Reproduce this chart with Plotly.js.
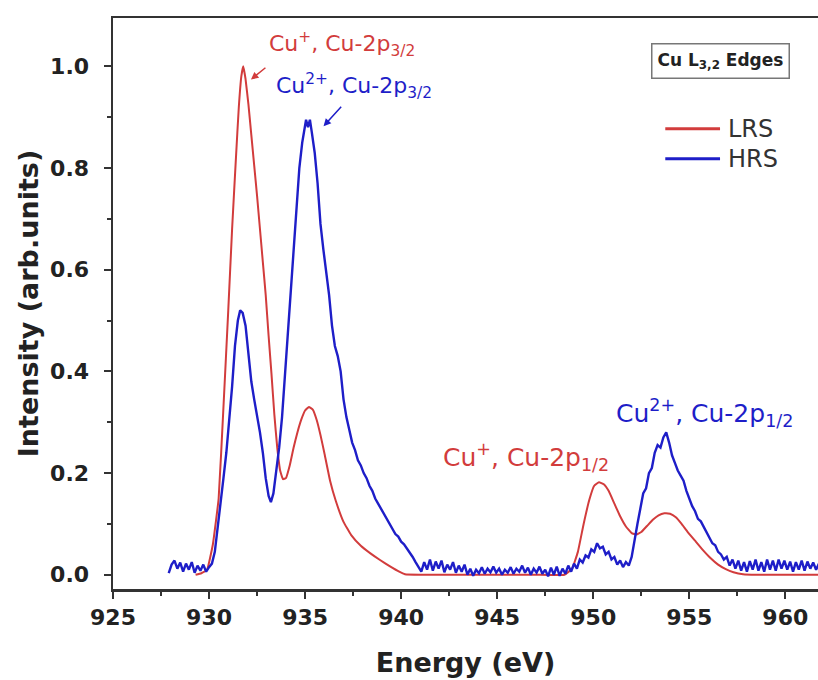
<!DOCTYPE html>
<html>
<head>
<meta charset="utf-8">
<script src="https://cdn.plot.ly/plotly-3.0.1.min.js"></script>
<style>html,body{margin:0;padding:0;background:#fff;}#chart{width:818px;height:680px;}</style>
</head>
<body>
<div id="chart"></div>
<script>
// ---- Data (Energy in eV, normalised intensity) ----
const xTickVals = [925, 930, 935, 940, 945, 950, 955, 960];
const yTickVals = [0.0, 0.2, 0.4, 0.6, 0.8, 1.0];
const seriesNames = ["LRS", "HRS"];

const lrsEnergy = [929.3, 929.6, 929.9, 930.2, 930.5, 930.75, 931.0, 931.2, 931.4, 931.55, 931.68, 931.78, 931.9, 932.05, 932.2, 932.35, 932.5, 932.65, 932.8, 932.95, 933.1, 933.25, 933.4, 933.55, 933.7, 933.85, 934.0, 934.2, 934.4, 934.6, 934.8, 935.0, 935.2, 935.4, 935.6, 935.8, 936.0, 936.3, 936.6, 937.0, 937.4, 937.9, 938.4, 938.9, 939.4, 939.9, 940.2, 941, 943, 945, 947, 948.5, 948.9, 949.2, 949.5, 949.8, 950.05, 950.3, 950.55, 950.8, 951.1, 951.4, 951.7, 952.0, 952.25, 952.5, 952.8, 953.1, 953.4, 953.7, 954.0, 954.3, 954.6, 954.9, 955.3, 955.7, 956.1, 956.5, 956.9, 957.3, 957.8, 958.5, 960, 961.75];
const lrsIntensity = [0.0, 0.003, 0.01, 0.06, 0.15, 0.33, 0.52, 0.68, 0.82, 0.92, 0.98, 1.0, 0.975, 0.925, 0.865, 0.805, 0.745, 0.68, 0.615, 0.55, 0.47, 0.395, 0.315, 0.25, 0.205, 0.188, 0.19, 0.215, 0.25, 0.28, 0.305, 0.323, 0.33, 0.325, 0.305, 0.275, 0.24, 0.185, 0.145, 0.104, 0.078, 0.057, 0.042, 0.029, 0.017, 0.006, 0.001, 0, 0, 0, 0, 0.0, 0.012, 0.045, 0.1, 0.148, 0.175, 0.182, 0.178, 0.165, 0.14, 0.115, 0.095, 0.082, 0.079, 0.084, 0.096, 0.108, 0.117, 0.121, 0.12, 0.113, 0.1, 0.085, 0.067, 0.049, 0.033, 0.02, 0.011, 0.005, 0.001, 0, 0, 0];

const hrsEnergy = [927.9, 928.05, 928.2, 928.35, 928.5, 928.65, 928.8, 928.95, 929.1, 929.25, 929.4, 929.55, 929.7, 929.85, 930.0, 930.15,
  930.3, 930.45, 930.6, 930.75, 930.9, 931.05, 931.2, 931.35, 931.5, 931.62, 931.75, 931.9, 932.05, 932.2, 932.35, 932.5, 932.65, 932.8, 932.95, 933.1, 933.22, 933.35, 933.5, 933.65, 933.8, 933.95,
  934.1, 934.25, 934.4, 934.55, 934.7, 934.85, 934.95, 935.05, 935.15, 935.25, 935.35, 935.5, 935.65, 935.8, 935.95, 936.1, 936.25, 936.4, 936.55, 936.7, 936.85, 937.0, 937.15, 937.3, 937.45, 937.6, 937.75, 937.9,
  938.05, 938.2, 938.35, 938.5, 938.65, 938.8, 938.95, 939.1, 939.25, 939.4, 939.55, 939.7, 939.85, 940.0, 940.15, 940.3, 940.45, 940.6, 940.75, 940.9, 941.05, 941.2, 941.35, 941.5, 941.65, 941.8, 941.95,
  942.1, 942.25, 942.4, 942.55, 942.7, 942.85, 943.0, 943.15, 943.3, 943.45, 943.6, 943.75, 943.9, 944.05, 944.2, 944.35, 944.5, 944.65, 944.8, 944.95, 945.1, 945.25, 945.4, 945.55, 945.7, 945.85,
  946.0, 946.15, 946.3, 946.45, 946.6, 946.75, 946.9, 947.05, 947.2, 947.35, 947.5, 947.65, 947.8, 947.95, 948.1, 948.25, 948.4, 948.55, 948.7, 948.85, 949.0, 949.15, 949.3, 949.45, 949.6, 949.75, 949.9,
  950.05, 950.2, 950.35, 950.5, 950.65, 950.8, 950.95, 951.1, 951.25, 951.4, 951.55, 951.7, 951.85, 952.0, 952.15, 952.3, 952.45, 952.6, 952.75, 952.9, 953.05, 953.2, 953.35, 953.5, 953.65, 953.8, 953.95,
  954.1, 954.25, 954.4, 954.55, 954.7, 954.85, 955.0, 955.15, 955.3, 955.45, 955.6, 955.75, 955.9, 956.05, 956.2, 956.35, 956.5, 956.65, 956.8, 956.95, 957.1, 957.25, 957.4, 957.55, 957.7, 957.85,
  958.0, 958.15, 958.3, 958.45, 958.6, 958.75, 958.9, 959.05, 959.2, 959.35, 959.5, 959.65, 959.8, 959.95, 960.1, 960.25, 960.4, 960.55, 960.7, 960.85, 961.0, 961.15, 961.3, 961.45, 961.6, 961.75];
const hrsIntensity = [0.003, 0.02, 0.028, 0.012, 0.024, 0.006, 0.022, 0.01, 0.025, 0.004, 0.018, 0.008, 0.02, 0.006, 0.015, 0.022,
  0.045, 0.09, 0.14, 0.19, 0.24, 0.3, 0.37, 0.45, 0.5, 0.52, 0.515, 0.49, 0.44, 0.38, 0.345, 0.315, 0.28, 0.24, 0.19, 0.155, 0.143, 0.16, 0.2, 0.25, 0.31, 0.39,
  0.48, 0.56, 0.64, 0.72, 0.8, 0.85, 0.875, 0.895, 0.88, 0.895, 0.87, 0.83, 0.77, 0.69, 0.64, 0.6, 0.55, 0.49, 0.45, 0.43, 0.4, 0.345, 0.31, 0.285, 0.26, 0.245, 0.225, 0.215,
  0.2, 0.19, 0.175, 0.165, 0.15, 0.14, 0.13, 0.12, 0.11, 0.1, 0.092, 0.08, 0.075, 0.065, 0.06, 0.052, 0.045, 0.035, 0.025, 0.015, 0.006, 0.025, 0.01, 0.03, 0.008, 0.026, 0.012,
  0.028, 0.005, 0.02, 0.01, 0.025, 0.004, 0.018, 0.006, 0.02, 0.0, 0.012, -0.002, 0.01, 0.003, 0.015, 0.002, 0.012, 0.005, 0.016, 0.004, 0.012, 0.0, 0.01, 0.004, 0.015, 0.002,
  0.012, 0.006, 0.018, 0.004, 0.014, 0.0, 0.012, 0.004, 0.016, 0.002, 0.01, -0.003, 0.014, 0.0, 0.016, -0.002, 0.012, 0.002, 0.018, 0.006, 0.022, 0.012, 0.03, 0.024, 0.038, 0.034, 0.05,
  0.045, 0.062, 0.052, 0.055, 0.04, 0.045, 0.03, 0.035, 0.02, 0.028, 0.015, 0.025, 0.018, 0.035, 0.07, 0.1, 0.13, 0.16, 0.17, 0.2, 0.21, 0.24, 0.255, 0.25, 0.27, 0.28, 0.26,
  0.235, 0.22, 0.205, 0.195, 0.185, 0.165, 0.15, 0.135, 0.125, 0.11, 0.105, 0.095, 0.085, 0.075, 0.062, 0.058, 0.045, 0.04, 0.03, 0.035, 0.018, 0.03, 0.012, 0.028, 0.008, 0.025,
  0.006, 0.027, 0.01, 0.03, 0.008, 0.025, 0.006, 0.03, 0.01, 0.028, 0.008, 0.03, 0.012, 0.028, 0.01, 0.026, 0.006, 0.025, 0.01, 0.028, 0.008, 0.026, 0.012, 0.024, 0.01, 0.022];

const RED = "#d23c3c";
const BLUE = "#1e1ec8";
const AXC = "#333333";
const FONT = "DejaVu Sans, Arial, sans-serif";

const traces = [
  {x: lrsEnergy, y: lrsIntensity, name: seriesNames[0], type: "scatter", mode: "lines",
   line: {color: RED, width: 2, shape: "spline", smoothing: 0.3}, showlegend: false},
  {x: hrsEnergy, y: hrsIntensity, name: seriesNames[1], type: "scatter", mode: "lines",
   line: {color: BLUE, width: 2.4}, showlegend: false}
];

const layout = {
  width: 818, height: 680,
  margin: {l: 113, r: 0, t: 18, b: 91},
  paper_bgcolor: "#ffffff", plot_bgcolor: "#ffffff",
  font: {family: FONT, color: "#222"},
  xaxis: {
    range: [925, 961.7], tickvals: xTickVals, ticks: "outside", ticklen: 7, tickwidth: 2, tickcolor: AXC,
    showline: true, linecolor: AXC, linewidth: 2.5, mirror: true, showgrid: false, zeroline: false,
    tickfont: {family: FONT, size: 22, color: "#222", weight: "bold"},
    minor: {dtick: 2.5, tick0: 925, ticks: "outside", ticklen: 4, tickwidth: 2, tickcolor: AXC, showgrid: false},
    title: {text: "<b>Energy (eV)</b>", font: {family: FONT, size: 27, color: "#222"}, standoff: 24}
  },
  yaxis: {
    range: [-0.028, 1.095], tickvals: yTickVals, tickformat: ".1f", ticks: "outside", ticklen: 7, tickwidth: 2, tickcolor: AXC,
    showline: true, linecolor: AXC, linewidth: 2.5, mirror: true, showgrid: false, zeroline: false,
    ticklabelstandoff: 10,
    tickfont: {family: FONT, size: 22, color: "#222", weight: "bold"},
    minor: {dtick: 0.1, tick0: 0, ticks: "outside", ticklen: 4, tickwidth: 2, tickcolor: AXC, showgrid: false},
    title: {text: "<b>Intensity (arb.units)</b>", font: {family: FONT, size: 27, color: "#222"}, standoff: 4}
  },
  shapes: [
    {type: "line", xref: "x", yref: "y", x0: 953.75, x1: 956.6, y0: 0.877, y1: 0.877, line: {color: RED, width: 3}},
    {type: "line", xref: "x", yref: "y", x0: 953.75, x1: 956.6, y0: 0.818, y1: 0.818, line: {color: BLUE, width: 3}}
  ],
  annotations: [
    {xref: "x", yref: "y", x: 956.9, y: 0.877, text: "LRS", showarrow: false, xanchor: "left", yanchor: "middle",
     font: {family: FONT, size: 24, color: "#333"}},
    {xref: "x", yref: "y", x: 956.9, y: 0.818, text: "HRS", showarrow: false, xanchor: "left", yanchor: "middle",
     font: {family: FONT, size: 24, color: "#333"}},
    {xref: "x", yref: "y", x: 956.64, y: 1.01, text: "<b>Cu L<sub>3,2</sub> Edges</b>", showarrow: false,
     xanchor: "center", yanchor: "middle", font: {family: FONT, size: 17, color: "#222"},
     bordercolor: "#777", borderwidth: 1.5, borderpad: 5, bgcolor: "#fff"},
    {xref: "x", yref: "y", x: 933.0, y: 1.043, text: "Cu<sup>+</sup>, Cu-2p<sub>3/2</sub>", showarrow: false,
     xanchor: "left", yanchor: "middle", font: {family: FONT, size: 22, color: RED}},
    {xref: "x", yref: "y", x: 933.4, y: 0.962, text: "Cu<sup>2+</sup>, Cu-2p<sub>3/2</sub>", showarrow: false,
     xanchor: "left", yanchor: "middle", font: {family: FONT, size: 22, color: BLUE}},
    {xref: "x", yref: "y", x: 942.1, y: 0.232, text: "Cu<sup>+</sup>, Cu-2p<sub>1/2</sub>", showarrow: false,
     xanchor: "left", yanchor: "middle", font: {family: FONT, size: 25, color: RED}},
    {xref: "x", yref: "y", x: 951.1, y: 0.319, text: "Cu<sup>2+</sup>, Cu-2p<sub>1/2</sub>", showarrow: false,
     xanchor: "left", yanchor: "middle", font: {family: FONT, size: 25, color: BLUE}},
    {xref: "x", yref: "y", x: 932.18, y: 0.974, text: "", showarrow: true, ax: 16, ay: -13,
     arrowhead: 2, arrowsize: 1, arrowwidth: 1.5, arrowcolor: RED, standoff: 0, startstandoff: 0},
    {xref: "x", yref: "y", x: 935.96, y: 0.882, text: "", showarrow: true, ax: 19, ay: -21,
     arrowhead: 2, arrowsize: 1, arrowwidth: 1.5, arrowcolor: BLUE, standoff: 0, startstandoff: 0}
  ]
};

Plotly.newPlot("chart", traces, layout, {displayModeBar: false, staticPlot: true});
</script>
</body>
</html>
